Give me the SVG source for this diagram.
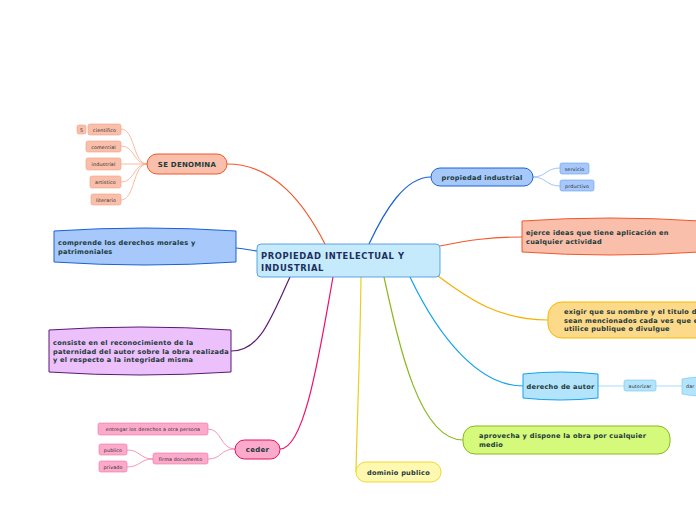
<svg xmlns="http://www.w3.org/2000/svg" width="696" height="520" viewBox="0 0 696 520">
<style>
text{font-family:"DejaVu Sans",Verdana,sans-serif;fill:#1d3a3a}
.b{font-weight:bold;font-size:6.6px;letter-spacing:0.25px}
.s{font-size:4.8px;fill:#2a2a2a;letter-spacing:0.15px}
.c{fill:none;stroke-width:1.2}
.l{fill:none;stroke-width:0.8}
</style>
<rect width="696" height="520" fill="#ffffff"/>
<g id="connectors">
<path class="c" stroke="#f2572a" d="M227,164 C275,164 305,205 325,244"/>
<path class="c" stroke="#1a62d4" d="M369,244 C385,210 405,177 431,177"/>
<path class="c" stroke="#f2572a" d="M440,246 C470,240 490,237 522,237"/>
<path class="c" stroke="#f5b000" d="M438,276 C470,300 500,320 548,320"/>
<path class="c" stroke="#12a2e8" d="M410,277 C440,340 480,386 523,386"/>
<path class="c" stroke="#8ab820" d="M384,277 C400,350 420,440 463,440"/>
<path class="c" stroke="#e8d020" d="M361,277 C360,360 357,420 356,472"/>
<path class="c" stroke="#f0106a" d="M333,277 C320,350 305,449 280,449"/>
<path class="c" stroke="#5a1a70" d="M290,277 C270,320 260,351 231,351"/>
<path class="c" stroke="#1a62d4" d="M236,248 C245,249 250,250 257,251"/>
<g stroke="#f9a98c">
<path class="l" d="M121,129 C135,129 133,164 147,164"/>
<path class="l" d="M121,146 C135,146 133,164 147,164"/>
<path class="l" d="M121,164 L147,164"/>
<path class="l" d="M121,182 C135,182 133,164 147,164"/>
<path class="l" d="M121,200 C135,200 133,164 147,164"/>
</g>
<g stroke="#8ab6f4">
<path class="l" d="M533,177 C546,177 546,168 560,168"/>
<path class="l" d="M533,177 C546,177 546,186 560,186"/>
</g>
<g stroke="#8fd4f4">
<path class="l" d="M598,386 L624,386"/>
<path class="l" d="M656,386 L682,386"/>
</g>
<g stroke="#f27aa8">
<path class="l" d="M235,449 C220,449 222,429 208,429"/>
<path class="l" d="M235,449 C220,449 222,459 208,459"/>
<path class="l" d="M153,459 C140,459 140,450 127,450"/>
<path class="l" d="M153,459 C140,459 140,467 127,467"/>
</g>
</g>
<g id="center">
<rect x="257" y="244" width="183" height="33" rx="4" fill="#c4eafc" stroke="#3a90d8" stroke-width="0.8"/>
<text x="261" y="259" style="font-weight:bold;font-size:8.4px;letter-spacing:0.6px;fill:#1c2f5e">PROPIEDAD INTELECTUAL Y</text>
<text x="261" y="270.5" style="font-weight:bold;font-size:8.4px;letter-spacing:0.6px;fill:#1c2f5e">INDUSTRIAL</text>
</g>
<g id="se-denomina">
<rect x="147" y="154" width="80" height="20" rx="10" fill="#f9bfaa" stroke="#f2572a" stroke-width="1"/>
<text x="187" y="166.5" class="b" text-anchor="middle" style="font-size:7px">SE DENOMINA</text>
</g>
<g id="cientifico">
<rect x="77" y="125" width="9" height="9" rx="2" fill="#f9bfaa" stroke="#f4a080" stroke-width="0.6"/>
<text x="81.5" y="131.5" class="s" text-anchor="middle">5</text>
<rect x="88" y="124" width="33" height="11" rx="2" fill="#f9bfaa" stroke="#f4a080" stroke-width="0.6"/>
<text x="104.5" y="131.5" class="s" text-anchor="middle">cientifico</text>
</g>
<g id="comercial">
<rect x="86" y="141" width="35" height="11" rx="2" fill="#f9bfaa" stroke="#f4a080" stroke-width="0.6"/>
<text x="103.5" y="148.5" class="s" text-anchor="middle">comercial</text>
</g>
<g id="industrial">
<rect x="86" y="158" width="35" height="12" rx="2" fill="#f9bfaa" stroke="#f4a080" stroke-width="0.6"/>
<text x="103.5" y="166" class="s" text-anchor="middle">industrial</text>
</g>
<g id="artistico">
<rect x="90" y="176" width="31" height="12" rx="2" fill="#f9bfaa" stroke="#f4a080" stroke-width="0.6"/>
<text x="105.5" y="184" class="s" text-anchor="middle">artistico</text>
</g>
<g id="literario">
<rect x="91" y="194" width="30" height="11" rx="2" fill="#f9bfaa" stroke="#f4a080" stroke-width="0.6"/>
<text x="106" y="201.5" class="s" text-anchor="middle">literario</text>
</g>
<g id="propiedad-industrial">
<rect x="431" y="168" width="102" height="18" rx="9" fill="#a6c8fb" stroke="#1a62d4" stroke-width="1"/>
<text x="482" y="179.5" class="b" text-anchor="middle">propiedad industrial</text>
</g>
<g id="servicio">
<rect x="560" y="163" width="29" height="11" rx="2" fill="#a6c8fb" stroke="#6aa0f0" stroke-width="0.6"/>
<text x="574.5" y="170.5" class="s" text-anchor="middle">servicio</text>
</g>
<g id="prductivo">
<rect x="560" y="180" width="34" height="11" rx="2" fill="#a6c8fb" stroke="#6aa0f0" stroke-width="0.6"/>
<text x="577" y="187.5" class="s" text-anchor="middle">prductivo</text>
</g>
<g id="ejerce">
<path d="M522,221 Q609,215 700,221 L700,252 Q609,258 522,252 Z" fill="#f9bfaa" stroke="#f2572a" stroke-width="1"/>
<text x="526" y="235" class="b">ejerce ideas que tiene aplicación en</text>
<text x="526" y="243.5" class="b">cualquier  actividad</text>
</g>
<g id="exigir">
<rect x="548" y="302" width="170" height="36" rx="14" fill="#fdd98a" stroke="#f5b800" stroke-width="1"/>
<text x="564" y="314" class="b">exigir que su nombre y el titulo de</text>
<text x="564" y="322.5" class="b">sean mencionados cada ves que e</text>
<text x="564" y="331" class="b">utilice publique o divulgue</text>
</g>
<g id="derecho-de-autor">
<path d="M523,374 Q560,370 598,374 L598,398 Q560,402 523,398 Z" fill="#b3e4fb" stroke="#12a2e8" stroke-width="1"/>
<text x="560.5" y="388.5" class="b" text-anchor="middle">derecho de autor</text>
</g>
<g id="autorizar">
<rect x="624" y="380" width="32" height="11" rx="2" fill="#b3e4fb" stroke="#6cc8f0" stroke-width="0.6"/>
<text x="640" y="387.5" class="s" text-anchor="middle">autorizar</text>
</g>
<g id="dar">
<path d="M682,379 Q700,375 720,379 L720,394 Q700,398 682,394 Z" fill="#b3e4fb" stroke="#6cc8f0" stroke-width="0.6"/>
<text x="686" y="388" class="s">dar</text>
</g>
<g id="aprovecha">
<rect x="463" y="426" width="207" height="28" rx="12" fill="#d5f97a" stroke="#8ab820" stroke-width="1"/>
<text x="479" y="438" class="b">aprovecha y dispone la obra por cualquier</text>
<text x="479" y="447" class="b">medio</text>
</g>
<g id="dominio-publico">
<rect x="356" y="462" width="85" height="20" rx="10" fill="#fff8b0" stroke="#f0d830" stroke-width="1"/>
<text x="398.5" y="474.5" class="b" text-anchor="middle">dominio publico</text>
</g>
<g id="ceder">
<rect x="235" y="440" width="45" height="19" rx="9.5" fill="#fcaacb" stroke="#e01060" stroke-width="1"/>
<text x="257.5" y="452" class="b" text-anchor="middle" style="font-size:7px">ceder</text>
</g>
<g id="entregar">
<rect x="98" y="423" width="110" height="12" rx="2" fill="#fcaacb" stroke="#f070a0" stroke-width="0.6"/>
<text x="153" y="431" class="s" text-anchor="middle">entregar los derechos a otra persona</text>
</g>
<g id="firma-documento">
<rect x="153" y="453" width="55" height="11" rx="2" fill="#fcaacb" stroke="#f070a0" stroke-width="0.6"/>
<text x="180.5" y="460.5" class="s" text-anchor="middle">firma documento</text>
</g>
<g id="publico">
<rect x="99" y="444" width="28" height="11" rx="2" fill="#fcaacb" stroke="#f070a0" stroke-width="0.6"/>
<text x="113" y="451.5" class="s" text-anchor="middle">publico</text>
</g>
<g id="privado">
<rect x="99" y="461" width="28" height="11" rx="2" fill="#fcaacb" stroke="#f070a0" stroke-width="0.6"/>
<text x="113" y="468.5" class="s" text-anchor="middle">privado</text>
</g>
<g id="comprende">
<path d="M54,231 Q145,225 236,231 L236,262 Q145,268 54,262 Z" fill="#a6c8fb" stroke="#1a62d4" stroke-width="1"/>
<text x="58" y="245" class="b">comprende los derechos morales y</text>
<text x="58" y="254" class="b">patrimoniales</text>
</g>
<g id="consiste">
<path d="M49,330 Q140,324 231,330 L231,372 Q140,378 49,372 Z" fill="#ecc0fb" stroke="#5a1a70" stroke-width="1"/>
<text x="53" y="345" class="b">consiste en el reconocimiento de la</text>
<text x="53" y="353.5" class="b">paternidad del autor sobre la obra realizada</text>
<text x="53" y="362" class="b">y el respecto a la integridad misma</text>
</g>
</svg>
